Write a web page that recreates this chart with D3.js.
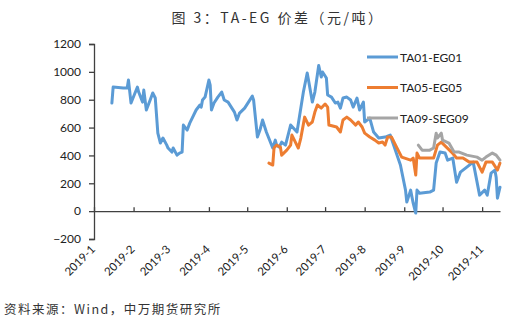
<!DOCTYPE html>
<html><head><meta charset="utf-8">
<script src="https://cdn.jsdelivr.net/npm/d3@7"></script>
<style>
body{margin:0;background:#fff;}
svg{display:block;}
</style></head>
<body>
<svg id="c" width="523" height="325"></svg>
<script>
const title = "图 3：TA-EG 价差（元/吨）";
const source = "资料来源：Wind，中万期货研究所";
const seriesNames = ["TA01-EG01", "TA05-EG05", "TA09-SEG09"];
const seriesColors = ["#5B9BD5", "#ED7D31", "#A5A5A5"];
const yTicks = [-200, 0, 200, 400, 600, 800, 1000, 1200];
const xTickLabels = ["2019-1","2019-2","2019-3","2019-4","2019-5","2019-6","2019-7","2019-8","2019-9","2019-10","2019-11"];

const ta01Dates = ["01-15","01-16","01-24","01-27","01-28","01-30","02-04","02-05","02-08","02-09","02-11","02-14","02-16","02-18","02-20","02-22","02-24","02-27","02-28","03-03","03-04","03-07","03-09","03-11","03-12","03-15","03-17","03-22","03-25","03-26","03-27","03-29","04-01","04-02","04-03","04-05","04-08","04-11","04-13","04-16","04-19","04-21","04-23","04-25","04-29","05-02","05-05","05-06","05-09","05-11","05-13","05-16","05-21","05-23","05-24","05-26","05-28","05-31","06-04","06-09","06-14","06-17","06-18","06-21","06-23","06-26","06-28","06-29","07-02","07-03","07-06","07-09","07-11","07-13","07-15","07-18","07-21","07-23","07-26","07-28","07-31","08-01","08-05","08-08","08-12","08-17","08-21","08-25","08-29","09-02","09-03","09-06","09-08","09-10","09-11","09-13","09-21","09-24","09-26","09-29","10-03","10-05","10-09","10-12","10-15","10-20","10-25","10-30","11-03","11-05","11-08","11-11","11-12","11-13","11-15"];
const ta01Values = [776,891,884,884,941,776,891,855,783,869,726,798,848,812,560,489,525,474,453,424,453,402,417,424,618,582,632,726,762,747,798,819,941,905,726,776,819,855,798,783,740,711,654,704,740,783,826,798,532,582,654,568,453,510,474,460,496,474,618,568,855,992,941,783,855,1045,963,999,956,834,819,776,783,740,812,819,798,747,812,726,783,640,668,568,525,532,546,438,331,151,65,151,57,-14,151,129,137,151,345,424,417,366,381,208,280,316,352,115,151,115,273,295,244,93,172];

const ta05Dates = ["05-18","05-21","05-22","05-24","05-27","05-28","06-01","06-04","06-05","06-08","06-10","06-12","06-15","06-18","06-21","06-23","06-25","06-28","07-01","07-03","07-04","07-10","07-13","07-15","07-18","07-21","07-25","07-27","07-30","08-01","08-05","08-09","08-12","08-15","08-17","08-19","08-22","08-26","08-30","09-06","09-08","09-10","09-11","09-13","09-24","09-27","09-30","10-04","10-08","10-12","10-17","10-22","10-28","11-01","11-04","11-09","11-13","11-15"];
const ta05Values = [345,331,453,474,460,402,438,474,546,490,453,525,675,618,640,711,762,740,769,747,618,604,568,654,675,654,618,640,604,560,532,510,489,496,474,532,532,460,388,366,381,259,417,381,381,474,496,460,424,381,381,352,352,280,352,352,295,345];

const ta09Dates = ["09-12","09-15","09-21","09-24","09-26","09-27","09-30","10-01","10-06","10-10","10-14","10-20","10-28","11-01","11-04","11-09","11-12","11-15"];
const ta09Values = [474,438,438,453,560,525,560,510,489,424,424,402,388,366,388,417,402,366];

const svg = d3.select("#c");
const parse = s => d3.timeParse("%Y-%m-%d")("2019-" + s);

const x = d3.scaleTime().domain([parse("01-01"), parse("11-15")]).range([94, 500]);
const y = d3.scaleLinear().domain([-200, 1200]).range([239, 44]);

const axisColor = "#404040";
const tickFont = "Lato, 'Open Sans', sans-serif";

// title
svg.append("text").attr("x", 278).attr("y", 23).attr("text-anchor", "middle")
  .attr("font-family", "'Noto Sans CJK SC', sans-serif").attr("font-size", 14)
  .attr("letter-spacing", 2.5)
  .attr("fill", "#333").text(title);

// y axis
const yAxis = d3.axisLeft(y).tickValues(yTicks).tickSize(5).tickFormat(d3.format("d"));
const gy = svg.append("g").attr("transform", "translate(94,0)").call(yAxis);
gy.select(".domain").attr("stroke", axisColor).attr("stroke-width", 1.3);
gy.selectAll(".tick line").attr("stroke", axisColor).attr("stroke-width", 1.3);
gy.selectAll(".tick text").attr("font-family", tickFont).attr("font-size", 12)
  .attr("fill", "#222").attr("x", -13);

// x axis at y=0
const monthDates = xTickLabels.map(s => new Date(2019, +s.split("-")[1] - 1, 1));
const xAxis = d3.axisBottom(x).tickValues(monthDates).tickSize(-4).tickFormat("").tickSizeOuter(0);
const gx = svg.append("g").attr("transform", `translate(0,${y(0)})`).call(xAxis);
gx.select(".domain").attr("stroke", axisColor).attr("stroke-width", 1.3);
gx.selectAll(".tick line").attr("stroke", axisColor).attr("stroke-width", 1.3);

// x labels rotated
svg.append("g").selectAll("text").data(monthDates).join("text")
  .attr("transform", (d) => `translate(${x(d) + 2},${250}) rotate(-45)`)
  .attr("text-anchor", "end")
  .attr("font-family", tickFont).attr("font-size", 11.5).attr("fill", "#222")
  .text((d, i) => xTickLabels[i]);

// lines
const line = d3.line().x(d => x(d.date)).y(d => y(d.value)).curve(d3.curveLinear);
const allSeries = [
  {dates: ta01Dates, values: ta01Values},
  {dates: ta05Dates, values: ta05Values},
  {dates: ta09Dates, values: ta09Values}
];
allSeries.forEach((s, i) => {
  const pts = s.dates.map((d, j) => ({date: parse(d), value: s.values[j]}));
  svg.append("path").datum(pts).attr("d", line)
    .attr("fill", "none").attr("stroke", seriesColors[i]).attr("stroke-width", 3)
    .attr("stroke-linejoin", "round").attr("stroke-linecap", "round");
});

// legend
const lg = svg.append("g");
seriesNames.forEach((n, i) => {
  const ly = 57 + i * 30.5;
  lg.append("line").attr("x1", 367).attr("x2", 398).attr("y1", ly).attr("y2", ly)
    .attr("stroke", seriesColors[i]).attr("stroke-width", 3);
  lg.append("text").attr("x", 400).attr("y", ly + 4.5)
    .attr("font-family", tickFont).attr("font-size", 12).attr("fill", "#222").text(n);
});

// source
svg.append("text").attr("x", 4).attr("y", 314)
  .attr("font-family", "'Noto Sans CJK SC', sans-serif").attr("font-size", 12.5)
  .attr("letter-spacing", 1.5)
  .attr("fill", "#333").text(source);
</script>
</body></html>
